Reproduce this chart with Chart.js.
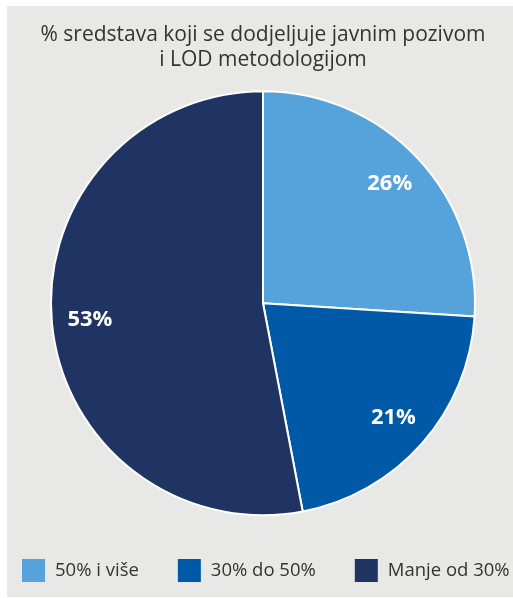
<!DOCTYPE html>
<html>
<head>
<meta charset="utf-8">
<script src="https://cdn.jsdelivr.net/npm/chart.js@4"></script>
<style>
    body { margin: 0; background: #ffffff; }
    #panel { position: absolute; left: 7px; top: 6px; width: 506px; height: 591px; background: #e8e9e7; }
</style>
</head>
<body>
<div id="panel"><canvas id="pie-chart" width="506" height="591"></canvas></div>
<script>
    const titleLines = ['% sredstava koji se dodjeljuje javnim pozivom', 'i LOD metodologijom'];
    const categories = ['50% i više', '30% do 50%', 'Manje od 30%'];
    const shares = [26, 21, 53];
    const sliceColors = ['#56a3db', '#0059a6', '#1f3462'];

    // white percentage labels inside each slice
    const sliceLabels = {
        id: 'sliceLabels',
        afterDatasetsDraw(chart) {
            const ctx = chart.ctx;
            const meta = chart.getDatasetMeta(0);
            ctx.save();
            ctx.fillStyle = '#ffffff';
            ctx.font = 'bold 22px "Open Sans"';
            ctx.textAlign = 'center';
            ctx.textBaseline = 'middle';
            meta.data.forEach((arc, i) => {
                const mid = (arc.startAngle + arc.endAngle) / 2;
                const r = arc.outerRadius * 0.82;
                ctx.fillText(shares[i] + '%', arc.x + Math.cos(mid) * r, arc.y + Math.sin(mid) * r);
            });
            ctx.restore();
        }
    };

    // one-row legend at the bottom, wider gaps than the built-in one allows
    const bottomLegend = {
        id: 'bottomLegend',
        afterDraw(chart) {
            const ctx = chart.ctx;
            const box = 23;
            const gap = 39;
            let x = 15;
            const y = 553;
            ctx.save();
            ctx.font = '18.5px "Open Sans"';
            ctx.textBaseline = 'middle';
            ctx.textAlign = 'left';
            categories.forEach((label, i) => {
                ctx.fillStyle = sliceColors[i];
                ctx.fillRect(x, y, box, box);
                ctx.fillStyle = '#333333';
                ctx.fillText(label, x + box + 10, y + box / 2);
                x += box + 10 + ctx.measureText(label).width + gap;
            });
            ctx.restore();
        }
    };

    const pieChart = new Chart(document.getElementById('pie-chart').getContext('2d'), {
        type: 'pie',
        data: {
            labels: categories,
            datasets: [{
                data: shares,
                backgroundColor: sliceColors,
                borderColor: '#ffffff',
                borderWidth: 2
            }]
        },
        options: {
            responsive: false,
            animation: false,
            radius: 212,
            layout: {
                padding: { left: 6, right: 0, top: 0, bottom: 76 }
            },
            plugins: {
                title: {
                    display: true,
                    text: titleLines,
                    color: '#333333',
                    font: { family: '"Open Sans"', size: 21, weight: 'normal', lineHeight: 1.2 },
                    padding: { top: 16, bottom: 13 }
                },
                legend: { display: false },
                tooltip: { enabled: false }
            }
        },
        plugins: [sliceLabels, bottomLegend]
    });
</script>
</body>
</html>
